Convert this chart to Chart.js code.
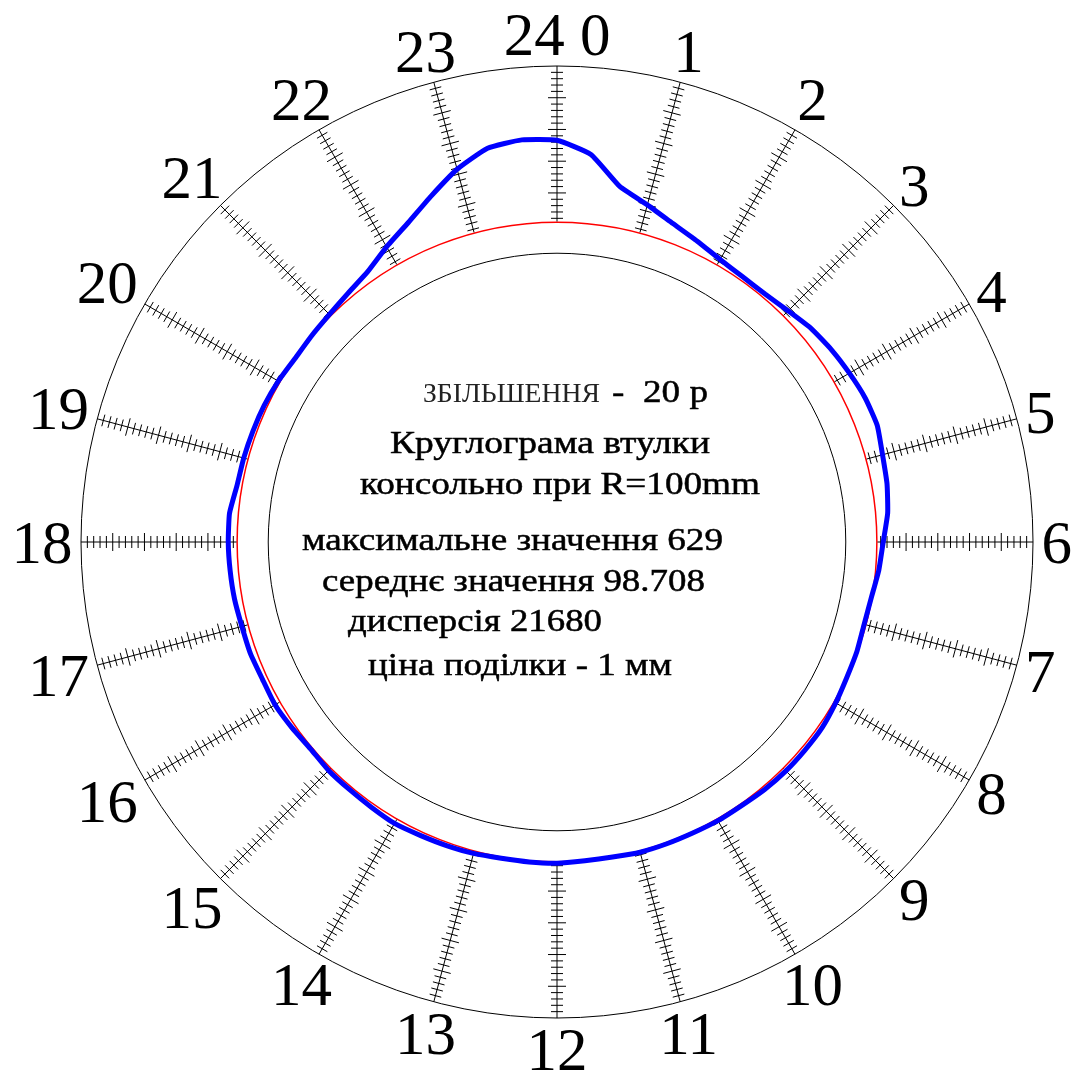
<!DOCTYPE html>
<html>
<head>
<meta charset="utf-8">
<title>Круглограма втулки</title>
<script src="https://cdn.jsdelivr.net/npm/chart.js@4.4.1/dist/chart.umd.min.js"></script>
<style>
	html, body { margin: 0; padding: 0; background: #fff; }
	canvas { display: block; }
</style>
</head>
<body>
<canvas id="krugl" width="1079" height="1079"></canvas>
<script>
// measuring points, degrees clockwise from the top (5 deg step)
const angleLabels = [
	'0','5','10','15','20','25','30','35','40','45','50','55',
	'60','65','70','75','80','85','90','95','100','105','110','115',
	'120','125','130','135','140','145','150','155','160','165','170','175',
	'180','185','190','195','200','205','210','215','220','225','230','235',
	'240','245','250','255','260','265','270','275','280','285','290','295',
	'300','305','310','315','320','325','330','335','340','345','350','355'
];

// bushing profile, in dial divisions
const profile = [
	63.3, 61.3, 56.9, 55.0, 53.4, 52.3, 51.4, 51.0, 51.0, 51.5, 52.3, 52.8,
	53.2, 53.6, 53.7, 53.1, 52.8, 52.3, 51.4, 50.9, 50.3, 50.1, 50.3, 50.4,
	50.7, 51.0, 51.0, 51.0, 50.9, 50.7, 50.7, 50.6, 50.6, 50.6, 50.4, 50.4,
	50.6, 50.6, 50.6, 50.8, 50.9, 51.0, 51.2, 51.0, 50.9, 50.9, 50.7, 51.0,
	51.3, 51.2, 51.4, 51.4, 51.6, 51.7, 51.8, 51.8, 51.2, 51.1, 51.0, 50.9,
	50.7, 50.4, 50.5, 50.7, 51.2, 52.0, 53.7, 55.5, 58.0, 60.8, 63.0, 63.6
];

// dial hours
const hourLabels = [
	'24 0','1','2','3','4','5','6','7','8','9','10','11',
	'12','13','14','15','16','17','18','19','20','21','22','23'
];

// circles of the dial
const innerCircle = 45.5;
const meanCircle = 50.4;
const rulerStart = 50.5;
const scaleMax = 75;

const infoLines = [
	// text, left x, baseline y, font size, width in the picture
	{ text: 'ЗБІЛЬШЕННЯ', x: 423, y: 402, size: 27, w: 177, color: '#222', bold: 0 },
	{ text: '-  20 р', x: 612, y: 402, size: 32, w: 96, color: '#000', bold: 0.5 },
	{ text: 'Круглограма втулки', x: 390, y: 453, size: 32, w: 320, color: '#000', bold: 0.5 },
	{ text: 'консольно при R=100mm', x: 360, y: 494, size: 32, w: 400, color: '#000', bold: 0.5 },
	{ text: 'максимальне значення 629', x: 302, y: 550, size: 32, w: 421, color: '#000', bold: 0.5 },
	{ text: 'середнє значення 98.708', x: 322, y: 591, size: 32, w: 383, color: '#000', bold: 0.5 },
	{ text: 'дисперсія 21680', x: 348, y: 631, size: 32, w: 254, color: '#000', bold: 0.5 },
	{ text: 'ціна поділки - 1 мм', x: 368, y: 675, size: 32, w: 304, color: '#000', bold: 0.5 }
];

const dialPlugin = {
	id: 'dial',
	beforeDatasetsDraw(chart) {
		const r = chart.scales.r;
		const ctx = chart.ctx;
		const step = angleLabels.length / hourLabels.length;
		ctx.save();
		ctx.strokeStyle = '#000';
		ctx.lineWidth = 1;
		// hour rulers with 1-division marks
		hourLabels.forEach((txt, h) => {
			const idx = h * step;
			const p0 = r.getPointPositionForValue(idx, rulerStart);
			const p1 = r.getPointPositionForValue(idx, scaleMax);
			const a = p0.angle;
			const nx = -Math.sin(a), ny = Math.cos(a);
			ctx.beginPath();
			ctx.moveTo(p0.x, p0.y);
			ctx.lineTo(p1.x, p1.y);
			for (let v = Math.ceil(rulerStart); v < scaleMax; v++) {
				const p = r.getPointPositionForValue(idx, v);
				const half = v % 5 === 0 ? 9 : 6;
				ctx.moveTo(p.x - nx * half, p.y - ny * half);
				ctx.lineTo(p.x + nx * half, p.y + ny * half);
			}
			ctx.stroke();
		});
		// hour numbers
		const size = 61;
		ctx.font = size + 'px "Liberation Serif", "Times New Roman", serif';
		ctx.fillStyle = '#000';
		ctx.textAlign = 'center';
		ctx.textBaseline = 'alphabetic';
		const outer = r.getDistanceFromCenterForValue(scaleMax);
		hourLabels.forEach((txt, h) => {
			const a = r.getPointPosition(h * step, 0).angle;
			const w = ctx.measureText(txt).width - 0.08 * size;
			const hh = 0.68 * size;
			const c = Math.abs(Math.cos(a)), s = Math.abs(Math.sin(a));
			const edge = Math.min(c > 1e-6 ? (w / 2) / c : 1e9, s > 1e-6 ? (hh / 2) / s : 1e9);
			const d = outer + 11 + edge;
			const x = r.xCenter + Math.cos(a) * d;
			const y = r.yCenter + Math.sin(a) * d;
			ctx.fillText(txt, x, y + hh / 2);
		});
		ctx.restore();
	},
	afterDraw(chart) {
		const ctx = chart.ctx;
		ctx.save();
		ctx.textAlign = 'left';
		ctx.textBaseline = 'alphabetic';
		infoLines.forEach(line => {
			ctx.font = line.size + 'px "Liberation Serif", "Times New Roman", serif';
			ctx.fillStyle = line.color;
			ctx.strokeStyle = line.color;
			ctx.lineWidth = line.bold;
			const mw = ctx.measureText(line.text).width;
			ctx.save();
			ctx.translate(line.x, line.y);
			ctx.scale(line.w / mw, 1);
			ctx.fillText(line.text, 0, 0);
			if (line.bold) ctx.strokeText(line.text, 0, 0);
			ctx.restore();
		});
		ctx.restore();
	}
};

const config_krugl = {
	type: 'radar',
	data: {
		labels: angleLabels,
		datasets: [
			{
				label: 'профіль',
				data: profile,
				borderColor: '#0000FF',
				borderWidth: 5,
				borderJoinStyle: 'round',
				pointRadius: 0,
				fill: false,
				tension: 0.15
			}
		]
	},
	plugins: [dialPlugin],
	options: {
		responsive: false,
		animation: false,
		layout: {
			padding: { left: 81, right: 46, top: 66, bottom: 61 }
		},
		plugins: {
			legend: { display: false },
			tooltip: { enabled: false },
			title: { display: false }
		},
		scales: {
			r: {
				min: 0,
				max: scaleMax,
				afterBuildTicks: axis => {
					axis.ticks = [0, innerCircle, meanCircle, scaleMax].map(v => ({ value: v }));
				},
				ticks: { display: false },
				pointLabels: { display: false },
				angleLines: { display: false },
				grid: {
					circular: true,
					color: c => (c.tick && c.tick.value === meanCircle) ? '#FF0000' : '#000000',
					lineWidth: c => (c.tick && c.tick.value === meanCircle) ? 1.5 : 1
				}
			}
		}
	}
};

const krugl = new Chart(
	document.getElementById('krugl'),
	config_krugl
);
</script>
</body>
</html>
